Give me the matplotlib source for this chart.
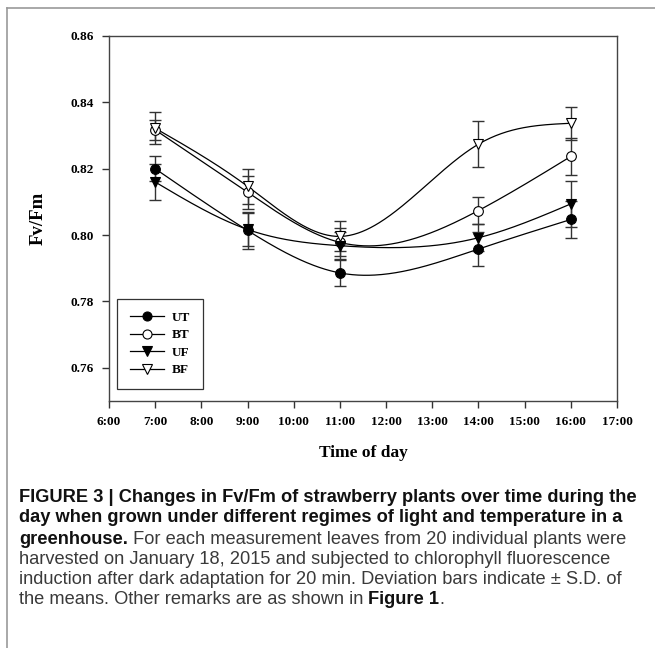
import numpy as np
import matplotlib
matplotlib.use("Agg")
import matplotlib.pyplot as plt
from matplotlib.lines import Line2D

# ---------------- data ----------------
hours = [7, 9, 11, 14, 16]
ut = [0.8200, 0.8014, 0.7886, 0.7958, 0.8047]
ut_sd = [0.0037, 0.0057, 0.0040, 0.0050, 0.0055]
bt = [0.8317, 0.8129, 0.7978, 0.8074, 0.8237]
bt_sd = [0.0030, 0.0050, 0.0042, 0.0040, 0.0055]
uf = [0.8160, 0.8017, 0.7968, 0.7992, 0.8094]
uf_sd = [0.0053, 0.0050, 0.0040, 0.0040, 0.0070]
bf = [0.8322, 0.8147, 0.7996, 0.8274, 0.8337]
bf_sd = [0.0048, 0.0053, 0.0045, 0.0070, 0.0050]
xticks = list(range(6, 18))
xticklabels = [f"{h}:00" for h in xticks]
yticks = [0.76, 0.78, 0.80, 0.82, 0.84, 0.86]


def natural_spline(x, y, xs):
    x = np.asarray(x, float); y = np.asarray(y, float)
    n = len(x)
    h = np.diff(x)
    A = np.zeros((n, n)); r = np.zeros(n)
    A[0, 0] = 1; A[-1, -1] = 1
    for i in range(1, n - 1):
        A[i, i - 1] = h[i - 1]
        A[i, i] = 2 * (h[i - 1] + h[i])
        A[i, i + 1] = h[i]
        r[i] = 6 * ((y[i + 1] - y[i]) / h[i] - (y[i] - y[i - 1]) / h[i - 1])
    M = np.linalg.solve(A, r)
    out = np.empty_like(xs)
    for k, t in enumerate(xs):
        i = min(max(np.searchsorted(x, t) - 1, 0), n - 2)
        a = x[i + 1] - t; b = t - x[i]
        out[k] = (M[i] * a**3 + M[i + 1] * b**3) / (6 * h[i]) \
            + (y[i] / h[i] - M[i] * h[i] / 6) * a \
            + (y[i + 1] / h[i] - M[i + 1] * h[i] / 6) * b
    return out


W, H = 655, 648
fig = plt.figure(figsize=(W / 100, H / 100), dpi=100)
ax = fig.add_axes([109 / W, 1 - 401 / H, (617 - 109) / W, (401 - 36) / H])

serif = "Liberation Serif"
series = [
    ("UT", ut, ut_sd, "o", "black"),
    ("BT", bt, bt_sd, "o", "white"),
    ("UF", uf, uf_sd, "v", "black"),
    ("BF", bf, bf_sd, "v", "white"),
]
xs = np.linspace(hours[0], hours[-1], 300)
handles = []
for name, vals, sd, mk, fc in series:
    ax.plot(xs, natural_spline(hours, vals, xs), color="black", lw=0.9, zorder=2)
    ax.errorbar(hours, vals, yerr=sd, fmt="none", ecolor="#333333",
                elinewidth=1.0, capsize=4, capthick=1.0, zorder=3)
    ax.plot(hours, vals, linestyle="none", marker=mk, markersize=7,
            markerfacecolor=fc, markeredgecolor="black", markeredgewidth=0.8,
            zorder=4)
    handles.append(Line2D([0], [0], color="black", lw=0.9, marker=mk,
                          markersize=6.5, markerfacecolor=fc,
                          markeredgecolor="black", markeredgewidth=0.8))

ax.set_xlim(6, 17)
ax.set_ylim(0.75, 0.86)
ax.set_xticks(xticks)
ax.set_xticklabels(xticklabels)
ax.set_yticks(yticks)
ax.set_yticklabels([f"{v:.2f}" for v in yticks])
ax.tick_params(direction="out", length=5, width=1, color="#333333",
               labelsize=9.5, pad=6)
for lab in ax.get_xticklabels() + ax.get_yticklabels():
    lab.set_fontfamily(serif); lab.set_fontweight("bold")
for s in ax.spines.values():
    s.set_color("#444444"); s.set_linewidth(1.0)

ax.set_xlabel("Time of day", fontfamily=serif, fontweight="bold",
              fontsize=12.5, labelpad=12)
ax.set_ylabel("Fv/Fm", fontfamily=serif, fontweight="bold",
              fontsize=13.5, labelpad=17)

leg = ax.legend(handles, [s[0] for s in series], loc="lower left",
                bbox_to_anchor=(8 / 508, 12 / 365), borderaxespad=0,
                prop={"family": serif, "weight": "bold", "size": 9.5},
                frameon=True, fancybox=False, edgecolor="black",
                handlelength=2.6, labelspacing=0.4, borderpad=0.95,
                handletextpad=0.6)
leg.get_frame().set_linewidth(0.9)

# outer frame
fig.add_artist(Line2D([7 / W, 7 / W], [0, 1 - 8 / H], transform=fig.transFigure,
                      color="#999999", lw=1.2))
fig.add_artist(Line2D([7 / W, 1], [1 - 8 / H, 1 - 8 / H], transform=fig.transFigure,
                      color="#999999", lw=1.2))

# caption
lines = [
    [("FIGURE 3 | Changes in Fv/Fm of strawberry plants over time during the", True)],
    [("day when grown under different regimes of light and temperature in a", True)],
    [("greenhouse.", True), (" For each measurement leaves from 20 individual plants were", False)],
    [("harvested on January 18, 2015 and subjected to chlorophyll fluorescence", False)],
    [("induction after dark adaptation for 20 min. Deviation bars indicate \u00b1 S.D. of", False)],
    [("the means. Other remarks are as shown in ", False), ("Figure 1", True), (".", False)],
]
capfam = "Liberation Sans"
fig.canvas.draw()
renderer = fig.canvas.get_renderer()
# fit font size so first line spans 19..636 px
t = fig.text(0, 0, lines[0][0][0], fontfamily=capfam, fontweight="bold", fontsize=10)
w10 = t.get_window_extent(renderer).width
t.remove()
fs = 10 * (636 - 19) / w10
ys = [498, 518, 539, 559, 580, 600]
for segs, yc in zip(lines, ys):
    x = 19
    for txt, bold in segs:
        tt = fig.text(x / W, 1 - yc / H, txt, fontfamily=capfam,
                      fontweight="bold" if bold else "normal", fontsize=fs,
                      color="#111111" if bold else "#3a3a3a",
                      va="center", ha="left")
        x += tt.get_window_extent(renderer).width

fig.savefig("out.png", dpi=100)
